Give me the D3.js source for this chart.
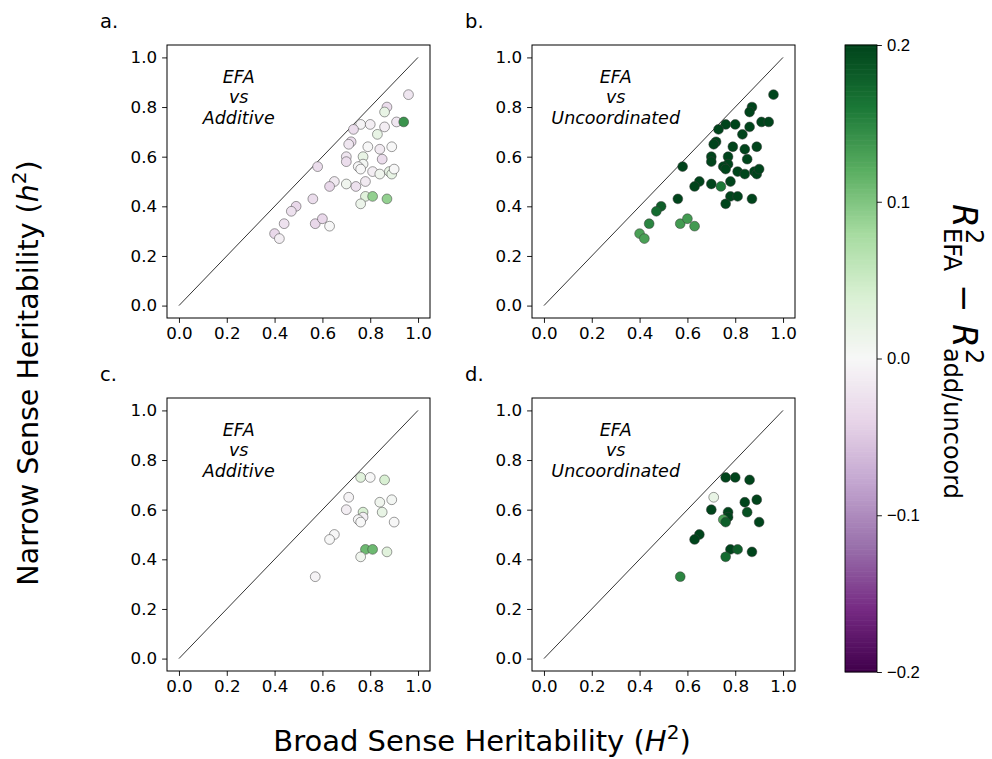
<!DOCTYPE html>
<html>
<head>
<meta charset="utf-8">
<script src="https://cdn.jsdelivr.net/npm/d3@7/dist/d3.min.js"></script>
<style>
  html, body { margin: 0; padding: 0; background: #fff; }
  svg { display: block; font-family: "DejaVu Sans", sans-serif; }
</style>
</head>
<body>
<svg id="chart" width="992" height="759"></svg>
<script>
// ---------------- DATA ----------------
// All lines (panels a, b)
const broadAll  = [0.96,0.87,0.86,0.91,0.94,0.76,0.80,0.73,0.86,0.83,0.72,0.71,0.79,0.89,0.84,0.70,0.77,0.85,0.70,0.58,0.77,0.75,0.76,0.81,0.84,0.88,0.89,0.90,0.65,0.63,0.70,0.74,0.78,0.78,0.81,0.87,0.76,0.56,0.49,0.47,0.44,0.57,0.60,0.63,0.40,0.42];
const narrowAll = [0.85,0.80,0.78,0.74,0.74,0.73,0.73,0.71,0.72,0.69,0.66,0.65,0.64,0.64,0.63,0.60,0.60,0.59,0.58,0.56,0.57,0.56,0.55,0.54,0.53,0.54,0.53,0.55,0.50,0.48,0.49,0.48,0.50,0.44,0.44,0.43,0.41,0.43,0.40,0.38,0.33,0.33,0.35,0.32,0.29,0.27];
const diffAddAll     = [-0.02,-0.03,0.02,-0.02,0.14,-0.005,-0.01,-0.03,-0.01,0.02,-0.03,-0.02,0.0,0.0,-0.015,-0.02,0.02,-0.03,-0.03,-0.03,0.005,0.0,0.0,-0.01,0.01,0.02,0.02,0.0,-0.015,-0.035,0.01,-0.025,-0.015,0.03,0.09,0.09,0.015,-0.03,-0.035,-0.025,-0.025,-0.035,-0.035,0.0,-0.035,-0.01];
const diffUncoordAll = [0.2,0.2,0.2,0.2,0.2,0.2,0.2,0.2,0.2,0.2,0.2,0.2,0.2,0.2,0.2,0.2,0.2,0.2,0.2,0.2,0.2,0.2,0.2,0.2,0.2,0.2,0.2,0.2,0.2,0.2,0.2,0.16,0.2,0.2,0.2,0.2,0.2,0.2,0.18,0.17,0.15,0.135,0.135,0.135,0.13,0.13];
// Subset (panels c, d)
const broadSub  = [0.76,0.80,0.86,0.71,0.84,0.89,0.70,0.77,0.85,0.77,0.75,0.76,0.90,0.65,0.63,0.78,0.81,0.87,0.76,0.57];
const narrowSub = [0.73,0.73,0.72,0.65,0.63,0.64,0.60,0.59,0.59,0.57,0.56,0.55,0.55,0.50,0.48,0.44,0.44,0.43,0.41,0.33];
const diffAddSub     = [0.03,0.0,0.04,-0.005,0.01,0.005,-0.01,0.04,0.02,-0.01,0.0,0.0,0.0,0.0,0.0,0.11,0.11,0.03,0.01,-0.005];
const diffUncoordSub = [0.2,0.2,0.2,0.02,0.2,0.2,0.2,0.2,0.19,0.2,0.13,0.18,0.2,0.2,0.2,0.2,0.18,0.2,0.17,0.15];

const axisTicks = [0.0,0.2,0.4,0.6,0.8,1.0];
const cbarTicks = [-0.2,-0.1,0.0,0.1,0.2];
const panelLetters = ["a.","b.","c.","d."];
const compareNames = ["Additive","Uncoordinated","Additive","Uncoordinated"];
const prgn = ["#40004b","#762a83","#9970ab","#c2a5cf","#e7d4e8","#f7f7f7","#d9f0d3","#a6dba0","#5aae61","#1b7837","#00441b"];

// ---------------- LAYOUT ----------------
const svg = d3.select("#chart");
const W = 263, H = 273;
const panels = [
  {left:167, top:45,  xs:broadAll, ys:narrowAll, c:diffAddAll,     tx:0.25},
  {left:532, top:45,  xs:broadAll, ys:narrowAll, c:diffUncoordAll, tx:0.30},
  {left:167, top:398, xs:broadSub, ys:narrowSub, c:diffAddSub,     tx:0.25},
  {left:532, top:398, xs:broadSub, ys:narrowSub, c:diffUncoordSub, tx:0.30}
];

const color = d3.scaleLinear()
  .domain(d3.range(prgn.length).map(i => -0.2 + i*0.4/(prgn.length-1)))
  .range(prgn).clamp(true);

const fmt = d3.format(".1f");

panels.forEach((p, k) => {
  const x = d3.scaleLinear().domain([-0.05,1.05]).range([p.left, p.left+W]);
  const y = d3.scaleLinear().domain([-0.05,1.05]).range([p.top+H, p.top]);
  const g = svg.append("g");

  // diagonal
  g.append("line")
    .attr("x1", x(0)).attr("y1", y(0)).attr("x2", x(1)).attr("y2", y(1))
    .attr("stroke","#000").attr("stroke-width",0.8);

  // points
  g.selectAll("circle.pt").data(p.xs.map((v,i)=>({x:v, y:p.ys[i], c:p.c[i]})))
    .enter().append("circle").attr("class","pt")
    .attr("cx", d=>x(d.x)).attr("cy", d=>y(d.y)).attr("r", 4.9)
    .attr("fill", d=>color(d.c))
    .attr("stroke","#3a3a3a").attr("stroke-width",0.5);

  // frame
  g.append("rect").attr("x",p.left).attr("y",p.top).attr("width",W).attr("height",H)
    .attr("fill","none").attr("stroke","#000").attr("stroke-width",1);

  // axes
  const xa = svg.append("g").attr("transform",`translate(0,${p.top+H})`)
    .call(d3.axisBottom(x).tickValues(axisTicks).tickFormat(fmt).tickSize(4.9).tickPadding(4.5));
  const ya = svg.append("g").attr("transform",`translate(${p.left},0)`)
    .call(d3.axisLeft(y).tickValues(axisTicks).tickFormat(fmt).tickSize(4.9).tickPadding(5));
  [xa, ya].forEach(a => {
    a.select(".domain").remove();
    a.selectAll(".tick line").attr("stroke","#000").attr("stroke-width",0.9);
    a.selectAll(".tick text").attr("fill","#000").style("font-size","16.7px")
      .style("font-family","'DejaVu Sans', sans-serif");
  });

  // annotation
  const ann = g.append("text").attr("text-anchor","middle")
    .style("font-size","17.5px").style("font-style","italic").attr("fill","#000");
  ["EFA","vs",compareNames[k]].forEach((t,i) => {
    ann.append("tspan").attr("x", x(p.tx)).attr("y", y(0.897) + i*20.5).text(t);
  });

  // panel letter
  svg.append("text").attr("x", p.left-67).attr("y", p.top-17)
    .style("font-size","19.5px").attr("fill","#000").text(panelLetters[k]);
});

// axis labels
const xl = svg.append("text").attr("x", 482).attr("y", 751).attr("text-anchor","middle")
  .style("font-size","29px").attr("fill","#000");
xl.append("tspan").text("Broad Sense Heritability (");
xl.append("tspan").style("font-style","italic").text("H");
xl.append("tspan").attr("dy",-12).style("font-size","20px").text("2");
xl.append("tspan").attr("dy",12).text(")");

const yl = svg.append("text").attr("transform","translate(38,373) rotate(-90)").attr("text-anchor","middle")
  .style("font-size","28.5px").attr("fill","#000");
yl.append("tspan").text("Narrow Sense Heritability (");
yl.append("tspan").style("font-style","italic").text("h");
yl.append("tspan").attr("dy",-12).style("font-size","20px").text("2");
yl.append("tspan").attr("dy",12).text(")");

// ---------------- COLORBAR ----------------
const cbX = 845, cbW = 32, cbTop = 45, cbBot = 672;
const cy = d3.scaleLinear().domain([-0.2,0.2]).range([cbBot, cbTop]);
const steps = d3.range(256).map(i => -0.2 + (i+0.5)*0.4/256);
svg.append("g").selectAll("rect").data(steps).enter().append("rect")
  .attr("x", cbX).attr("width", cbW)
  .attr("y", d => cy(d + 0.2/256) - 0.3)
  .attr("height", (cbBot-cbTop)/256 + 0.6)
  .attr("fill", d => color(d));
svg.append("rect").attr("x",cbX).attr("y",cbTop).attr("width",cbW).attr("height",cbBot-cbTop)
  .attr("fill","none").attr("stroke","#000").attr("stroke-width",0.9);
const ca = svg.append("g").attr("transform",`translate(${cbX+cbW},0)`)
  .call(d3.axisRight(cy).tickValues(cbarTicks).tickFormat(fmt).tickSize(4.9).tickPadding(5));
ca.select(".domain").remove();
ca.selectAll(".tick line").attr("stroke","#000").attr("stroke-width",0.9);
ca.selectAll(".tick text").attr("fill","#000").style("font-size","16.7px");

// colorbar label: R^2_EFA − R^2_add/uncoord (rotated, reading downward)
const lab = svg.append("g").attr("transform","translate(953,204) rotate(90)").attr("fill","#000");
const base = 34, sub = 24;
function mathR(x0) {
  lab.append("text").attr("x", x0).attr("y", 0).style("font-size", base+"px")
    .style("font-style","italic").text("R");
}
mathR(0);
lab.append("text").attr("x", 25).attr("y", -13).style("font-size", sub+"px").text("2");
lab.append("text").attr("x", 24).attr("y", 9).style("font-size", sub+"px").text("EFA");
lab.append("text").attr("x", 80).attr("y", 0).style("font-size", base+"px").text("\u2212");
mathR(120);
lab.append("text").attr("x", 145).attr("y", -13).style("font-size", sub+"px").text("2");
lab.append("text").attr("x", 144).attr("y", 9).style("font-size", sub+"px").text("add/uncoord");
</script>
</body>
</html>
